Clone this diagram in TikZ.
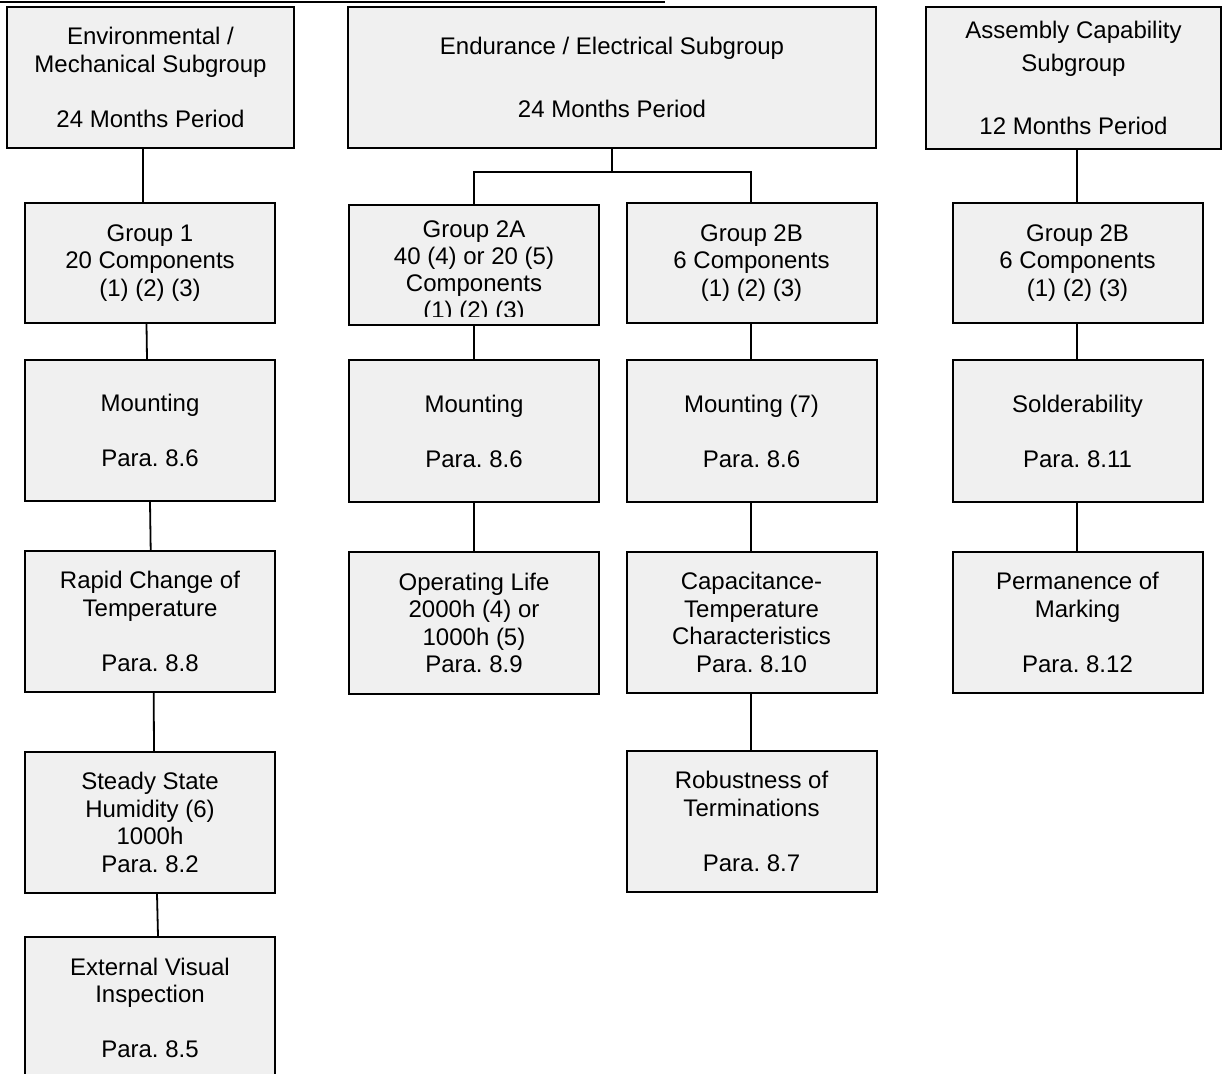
\documentclass[tikz,border=0pt]{standalone}
\usepackage{fontspec}
\setmainfont{Liberation Sans}
\usetikzlibrary{calc}
\frenchspacing
\definecolor{boxfill}{RGB}{240,240,240}
\newcommand\dgfont{\fontsize{12pt}{13.75pt}\selectfont\frenchspacing}
\tikzset{
  box/.style={draw=black, line width=1pt, fill=boxfill, inner sep=0pt, align=center, font=\dgfont},
  colbox/.style={box, minimum width=125pt, minimum height=70.5pt},
  grpbox/.style={box, minimum width=125pt, minimum height=60pt},
  txt/.style={inner sep=0pt, align=center, font=\dgfont},
  conn/.style={draw=black, line width=0.9pt}
}
\begin{document}
\begin{tikzpicture}[x=0.5pt,y=-0.5pt]
\path[clip] (0,0) rectangle (1224,1074);
\fill[white] (0,0) rectangle (1224,1074);
% top rule
\coordinate (ruleL) at (0,2);
\coordinate (ruleR) at (665,2);
\draw[line width=1pt] (ruleL) -- (ruleR);

% top row
\node[box, minimum width=143.5pt, minimum height=70.5pt] (env) at (150.5,77.5)
  {Environmental /\\Mechanical Subgroup\\[13.75pt]24 Months Period};
\node[box, minimum width=264pt, minimum height=70.5pt] (endur) at (612,77.5)
  {Endurance / Electrical Subgroup\\[17.75pt]24 Months Period};
\node[box, minimum width=147.5pt, minimum height=71pt] (assem) at (1073.5,78)
  {Assembly Capability\\[2.75pt]Subgroup\\[17.75pt]12 Months Period};

% group row
\node[grpbox] (g1) at (150,263) {Group 1\\20 Components\\(1) (2) (3)};
\node[grpbox] (g2a) at (474,265) {};
\begin{scope}
  \clip (349,205) rectangle (599,317);
  \node[txt, font=\fontsize{12pt}{13.4pt}\selectfont] (g2atext) at (474,272)
    {Group 2A\\40 (4) or 20 (5)\\Components\\(1) (2) (3)};
\end{scope}
\node[grpbox] (g2b) at (751.5,263) {Group 2B\\6 Components\\(1) (2) (3)};
\node[grpbox] (g2br) at (1077.5,263) {Group 2B\\6 Components\\(1) (2) (3)};

% row 3
\node[colbox] (m1) at (150,430.5) {Mounting\\[13.75pt]Para. 8.6};
\node[colbox] (m2a) at (474,431) {Mounting\\[13.75pt]Para. 8.6};
\node[colbox] (m2b) at (751.5,431) {Mounting (7)\\[13.75pt]Para. 8.6};
\node[colbox] (sold) at (1077.5,431) {Solderability\\[13.75pt]Para. 8.11};

% row 4
\node[colbox] (rapid) at (150,621.5) {Rapid Change of\\Temperature\\[13.75pt]Para. 8.8};
\node[colbox, minimum height=71pt] (oplife) at (474,623) {Operating Life\\2000h (4) or\\1000h (5)\\Para. 8.9};
\node[colbox] (capac) at (751.5,622.5) {Capacitance-\\Temperature\\Characteristics\\Para. 8.10};
\node[colbox] (perm) at (1077.5,622.5) {Permanence of\\Marking\\[13.75pt]Para. 8.12};

% row 5
\node[colbox] (steady) at (150,822.5) {Steady State\\Humidity (6)\\1000h\\Para. 8.2};
\node[colbox] (robust) at (751.5,821.5) {Robustness of\\Terminations\\[13.75pt]Para. 8.7};

% row 6
\node[colbox, minimum height=71pt] (extvis) at (150,1008) {External Visual\\Inspection\\[13.75pt]Para. 8.5};

% connectors, left column
\draw[conn] ([xshift=-3.75pt]env.south) -- ([xshift=-3.5pt]g1.north);
\draw[conn] ([xshift=-1.75pt]g1.south) -- ([xshift=-1.5pt]m1.north);
\draw[conn] (m1.south) -- ([xshift=0.35pt]rapid.north);
\draw[conn] ([xshift=1.85pt]rapid.south) -- ([xshift=2pt]steady.north);
\draw[conn] ([xshift=3.5pt]steady.south) -- ([xshift=4pt]extvis.north);

% connectors, endurance
\coordinate (split) at (612,172);
\draw[conn] (endur.south) -- (split);
\draw[conn] (split) -| (g2a.north);
\draw[conn] (split) -| ([xshift=-0.25pt]g2b.north);
\draw[conn] (g2a.south) -- (m2a.north);
\draw[conn] (m2a.south) -- (oplife.north);
\draw[conn] ([xshift=-0.25pt]g2b.south) -- ([xshift=-0.25pt]m2b.north);
\draw[conn] ([xshift=-0.25pt]m2b.south) -- ([xshift=-0.25pt]capac.north);
\draw[conn] ([xshift=-0.25pt]capac.south) -- ([xshift=-0.25pt]robust.north);

% connectors, assembly
\draw[conn] ([xshift=1.75pt]assem.south) -- ([xshift=-0.25pt]g2br.north);
\draw[conn] ([xshift=-0.25pt]g2br.south) -- ([xshift=-0.25pt]sold.north);
\draw[conn] ([xshift=-0.25pt]sold.south) -- ([xshift=-0.25pt]perm.north);
\end{tikzpicture}
\end{document}
